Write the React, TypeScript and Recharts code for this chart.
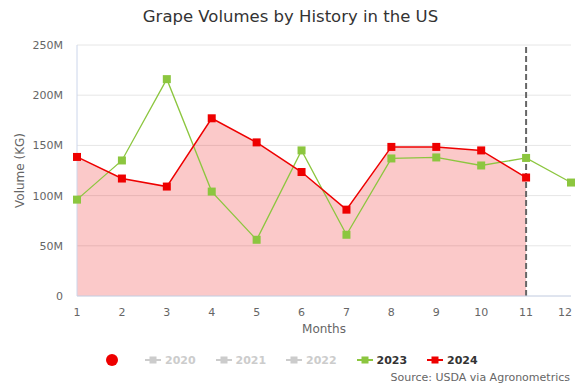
import React from 'react';
import {
  ComposedChart,
  Area,
  Line,
  XAxis,
  YAxis,
  CartesianGrid,
  ReferenceLine,
} from 'recharts';

const months = [1, 2, 3, 4, 5, 6, 7, 8, 9, 10, 11, 12];
// volumes in millions of KG
const vol2023 = [96, 135, 216, 104, 56, 145, 61, 137, 138, 130, 137.5, 113];
const vol2024: (number | null)[] = [138.5, 117, 109, 177, 153, 123.5, 86, 148.5, 148.5, 145, 118, null];
const yTicks = [0, 50e6, 100e6, 150e6, 200e6, 250e6];
const currentMonth = 11;

const legendYears = ['2020', '2021', '2022', '2023', '2024'];
const legendColors = ['#cccccc', '#cccccc', '#cccccc', '#8cc63f', '#ee0000'];
const legendActive = [false, false, false, true, true];

const title = 'Grape Volumes by History in the US';
const sourceText = 'Source: USDA via Agronometrics';

const data = months.map((m, i) => ({
  month: m,
  v2023: vol2023[i] * 1e6,
  v2024: vol2024[i] == null ? null : (vol2024[i] as number) * 1e6,
}));

const FONT = '"DejaVu Sans", sans-serif';
const GREEN = '#8cc63f';
const RED = '#ee0000';

const makeSquare = (color: string) => (props: any) => {
  const { cx, cy, index } = props;
  if (cx == null || cy == null || isNaN(cx) || isNaN(cy)) return <g key={'e' + index} />;
  return <rect key={'s' + index} x={cx - 4} y={cy - 4} width={8} height={8} fill={color} />;
};

const fmtY = (v: number) => (v === 0 ? '0' : `${v / 1e6}M`);

const XTick = (props: any) => {
  const { x, y, payload } = props;
  const last = payload.value === months[months.length - 1];
  return (
    <text
      x={last ? x + 1 : x}
      y={y + 4}
      dy="0.71em"
      textAnchor={last ? 'end' : 'middle'}
      fill="#666"
      fontSize={11}
      fontFamily={FONT}
    >
      {payload.value}
    </text>
  );
};

const YLabel = (props: any) => {
  const vb = props.viewBox || {};
  const x = (vb.x || 0) + 20;
  const y = (vb.y || 0) + (vb.height || 0) / 2;
  return (
    <text
      x={x}
      y={y}
      transform={`rotate(-90 ${x} ${y})`}
      textAnchor="middle"
      dominantBaseline="central"
      fill="#666"
      fontSize={12}
      fontFamily={FONT}
    >
      Volume (KG)
    </text>
  );
};

const XLabel = (props: any) => {
  const vb = props.viewBox || {};
  const x = (vb.x || 0) + (vb.width || 0) / 2;
  const y = (vb.y || 0) + 33;
  return (
    <text x={x} y={y} textAnchor="middle" dominantBaseline="central" fill="#666" fontSize={12} fontFamily={FONT}>
      Months
    </text>
  );
};

export default function App() {
  return (
    <div style={{ position: 'absolute', left: 0, top: 0, width: 581, height: 387, background: '#fff', fontFamily: FONT }}>
      <div
        style={{
          position: 'absolute',
          left: 0,
          top: 6,
          width: 581,
          textAlign: 'center',
          fontSize: 16.5,
          color: '#333',
          lineHeight: '22px',
        }}
      >
        {title}
      </div>
      <ComposedChart
        width={581}
        height={387}
        data={data}
        margin={{ top: 45, right: 10, left: 0, bottom: 51 }}
        style={{ position: 'absolute', left: 0, top: 0 }}
      >
        <CartesianGrid vertical={false} stroke="#e6e6e6" />
        <XAxis
          dataKey="month"
          type="number"
          domain={[1, 12]}
          ticks={months}
          interval={0}
          height={40}
          tickLine={false}
          axisLine={{ stroke: '#ccd6eb' }}
          tick={<XTick />}
          label={<XLabel />}
        />
        <YAxis
          domain={[0, 250e6]}
          ticks={yTicks}
          width={77}
          tickLine={false}
          axisLine={{ stroke: '#ccd6eb' }}
          tickMargin={8}
          tickFormatter={fmtY}
          tick={{ fill: '#666', fontSize: 11, fontFamily: FONT }}
          label={<YLabel />}
        />
        <Area
          type="linear"
          dataKey="v2024"
          stroke="none"
          fill={RED}
          fillOpacity={0.21}
          isAnimationActive={false}
          dot={false}
          activeDot={false}
        />
        <Line
          type="linear"
          dataKey="v2023"
          stroke={GREEN}
          strokeWidth={1.3}
          isAnimationActive={false}
          dot={makeSquare(GREEN)}
          activeDot={false}
        />
        <Line
          type="linear"
          dataKey="v2024"
          stroke={RED}
          strokeWidth={1.5}
          isAnimationActive={false}
          dot={makeSquare(RED)}
          activeDot={false}
        />
        <ReferenceLine x={currentMonth} stroke="#666" strokeWidth={2} strokeDasharray="6 3" />
      </ComposedChart>
      <div
        style={{
          position: 'absolute',
          left: 106,
          top: 354,
          width: 12,
          height: 12,
          borderRadius: 6,
          background: RED,
        }}
      />
      {legendYears.map((y, i) => (
        <div
          key={y}
          style={{
            position: 'absolute',
            left: 145 + i * 70.5,
            top: 352,
            height: 16,
            display: 'flex',
            alignItems: 'center',
            fontSize: 11,
            fontWeight: 'bold',
            color: legendActive[i] ? '#333' : '#cccccc',
          }}
        >
          <svg width={16} height={16} style={{ marginRight: 4 }}>
            <line x1={0} y1={8} x2={16} y2={8} stroke={legendColors[i]} strokeWidth={2} />
            <rect x={4.5} y={4.5} width={7} height={7} fill={legendColors[i]} />
          </svg>
          <span>{y}</span>
        </div>
      ))}
      <div
        style={{
          position: 'absolute',
          right: 11,
          top: 370,
          fontSize: 11,
          color: '#666',
          lineHeight: '16px',
        }}
      >
        {sourceText}
      </div>
    </div>
  );
}
